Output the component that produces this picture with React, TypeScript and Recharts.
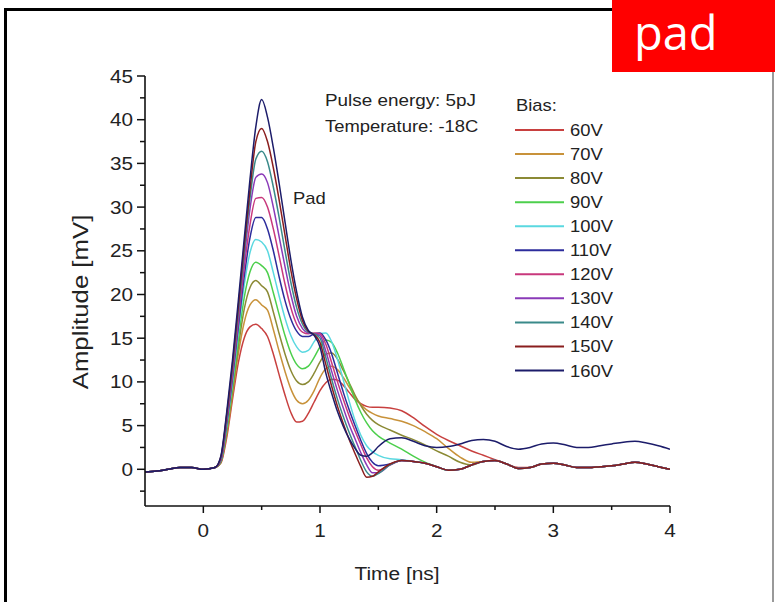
import React from 'react';
import { LineChart, Line, XAxis, YAxis } from 'recharts';

const TIME = [-0.5, -0.4, -0.3, -0.2, -0.1, 0, 0.1, 0.15, 0.2, 0.25, 0.3, 0.35, 0.4, 0.45, 0.5, 0.55, 0.6, 0.65, 0.7, 0.75, 0.8, 0.85, 0.9, 0.95, 1.0, 1.05, 1.1, 1.15, 1.2, 1.25, 1.3, 1.35, 1.4, 1.45, 1.5, 1.6, 1.7, 1.8, 1.9, 2.0, 2.1, 2.2, 2.3, 2.4, 2.5, 2.6, 2.7, 2.8, 2.9, 3.0, 3.1, 3.2, 3.3, 3.4, 3.5, 3.6, 3.7, 3.8, 3.9, 4.0];

const V60 = [-0.3, -0.2, 0.0, 0.2, 0.2, 0.0, 0.2, 0.7, 3.6, 8.0, 12.2, 15.0, 16.3, 16.6, 16.1, 15.2, 13.2, 10.8, 8.5, 6.5, 5.4, 5.5, 6.4, 7.7, 9.0, 9.9, 10.3, 10.2, 9.6, 8.8, 8.0, 7.5, 7.2, 7.1, 7.1, 7.0, 6.7, 5.9, 4.9, 4.0, 3.3, 2.7, 2.1, 1.6, 1.1, 0.6, 0.2, 0.2, 0.6, 0.7, 0.5, 0.2, 0.2, 0.3, 0.4, 0.6, 0.8, 0.6, 0.3, 0.0];
const V70 = [-0.3, -0.2, 0.0, 0.2, 0.2, 0.0, 0.2, 0.8, 4.0, 8.5, 13.2, 16.8, 18.8, 19.4, 18.8, 18.2, 16.0, 13.5, 11.2, 9.2, 7.9, 7.5, 7.9, 9.0, 10.5, 11.5, 11.8, 11.4, 10.5, 9.4, 8.3, 7.4, 6.8, 6.4, 6.1, 5.8, 5.5, 5.0, 4.3, 3.5, 2.4, 1.4, 0.8, 0.9, 1.0, 0.6, 0.1, 0.2, 0.6, 0.7, 0.5, 0.2, 0.2, 0.3, 0.4, 0.6, 0.8, 0.6, 0.3, 0.0];
const V80 = [-0.3, -0.2, 0.0, 0.2, 0.2, 0.0, 0.2, 0.8, 4.3, 9.0, 14.0, 18.3, 20.8, 21.6, 21.0, 20.3, 18.0, 15.5, 13.2, 11.3, 10.1, 9.7, 10.0, 11.0, 12.3, 13.2, 13.3, 12.6, 11.3, 9.9, 8.5, 7.3, 6.3, 5.6, 5.1, 4.5, 3.9, 3.4, 2.8, 2.1, 1.5, 0.8, 0.5, 0.9, 1.0, 0.6, 0.1, 0.2, 0.6, 0.7, 0.5, 0.2, 0.2, 0.3, 0.4, 0.6, 0.8, 0.6, 0.3, 0.0];
const V90 = [-0.3, -0.2, 0.0, 0.2, 0.2, 0.0, 0.2, 0.9, 4.6, 9.5, 14.8, 19.6, 22.6, 23.7, 23.3, 22.5, 20.2, 17.7, 15.3, 13.3, 12.0, 11.5, 11.8, 12.8, 14.0, 14.8, 14.5, 13.3, 11.6, 9.8, 8.0, 6.5, 5.3, 4.4, 3.8, 3.0, 2.3, 1.5, 0.8, 0.3, -0.1, 0.0, 0.5, 0.9, 1.0, 0.6, 0.1, 0.2, 0.6, 0.7, 0.5, 0.2, 0.2, 0.3, 0.4, 0.6, 0.8, 0.6, 0.3, 0.0];
const V100 = [-0.3, -0.2, 0.0, 0.2, 0.2, 0.0, 0.2, 1.0, 5.0, 10.0, 15.7, 21.0, 24.8, 26.3, 26.0, 25.0, 22.5, 19.8, 17.3, 15.3, 14.0, 13.4, 13.6, 14.6, 15.5, 15.6, 14.6, 12.6, 10.2, 7.8, 5.6, 3.9, 2.7, 2.0, 1.6, 1.2, 1.1, 0.9, 0.7, 0.3, -0.1, 0.0, 0.5, 0.9, 1.0, 0.6, 0.1, 0.2, 0.6, 0.7, 0.5, 0.2, 0.2, 0.3, 0.4, 0.6, 0.8, 0.6, 0.3, 0.0];
const V110 = [-0.3, -0.2, 0.0, 0.2, 0.2, 0.0, 0.2, 1.0, 5.2, 10.4, 16.3, 22.0, 26.5, 28.8, 28.8, 27.5, 25.0, 22.0, 19.3, 17.2, 15.8, 15.2, 15.2, 15.5, 15.6, 14.8, 13.2, 11.0, 8.8, 6.8, 5.0, 3.3, 1.8, 0.8, 0.4, 0.6, 1.0, 0.9, 0.7, 0.3, -0.1, 0.0, 0.5, 0.9, 1.0, 0.6, 0.1, 0.2, 0.6, 0.7, 0.5, 0.2, 0.2, 0.3, 0.4, 0.6, 0.8, 0.6, 0.3, 0.0];
const V120 = [-0.3, -0.2, 0.0, 0.2, 0.2, 0.0, 0.2, 1.1, 5.5, 10.8, 16.9, 23.0, 28.0, 31.0, 31.1, 30.0, 27.5, 24.4, 21.2, 18.5, 16.6, 15.7, 15.5, 15.6, 15.5, 14.3, 12.2, 10.0, 8.0, 6.1, 4.4, 2.8, 1.3, 0.3, -0.1, 0.5, 1.0, 0.9, 0.7, 0.3, -0.1, 0.0, 0.5, 0.9, 1.0, 0.6, 0.1, 0.2, 0.6, 0.7, 0.5, 0.2, 0.2, 0.3, 0.4, 0.6, 0.8, 0.6, 0.3, 0.0];
const V130 = [-0.3, -0.2, 0.0, 0.2, 0.2, 0.0, 0.2, 1.2, 5.8, 11.2, 17.5, 24.0, 29.8, 33.4, 33.8, 32.8, 30.0, 26.6, 23.2, 20.0, 17.5, 16.1, 15.6, 15.5, 15.3, 13.5, 11.2, 9.0, 7.0, 5.1, 3.5, 1.9, 0.5, -0.4, -0.4, 0.5, 1.0, 0.9, 0.7, 0.3, -0.1, 0.0, 0.5, 0.9, 1.0, 0.6, 0.1, 0.2, 0.6, 0.7, 0.5, 0.2, 0.2, 0.3, 0.4, 0.6, 0.8, 0.6, 0.3, 0.0];
const V140 = [-0.3, -0.2, 0.0, 0.2, 0.2, 0.0, 0.2, 1.3, 6.0, 11.6, 18.0, 24.8, 31.0, 35.5, 36.4, 35.2, 32.3, 28.8, 25.0, 21.4, 18.5, 16.6, 15.7, 15.5, 15.0, 12.8, 10.3, 8.0, 6.0, 4.2, 2.6, 1.0, -0.3, -0.8, -0.5, 0.5, 1.0, 0.9, 0.7, 0.3, -0.1, 0.0, 0.5, 0.9, 1.0, 0.6, 0.1, 0.2, 0.6, 0.7, 0.5, 0.2, 0.2, 0.3, 0.4, 0.6, 0.8, 0.6, 0.3, 0.0];
const V150 = [-0.3, -0.2, 0.0, 0.2, 0.2, 0.0, 0.2, 1.4, 6.2, 12.0, 18.6, 25.5, 32.0, 37.5, 39.0, 37.5, 34.5, 30.8, 26.8, 22.8, 19.5, 17.0, 15.8, 15.4, 14.5, 12.0, 9.5, 7.2, 5.2, 3.4, 1.8, 0.3, -0.9, -0.8, -0.3, 0.6, 1.0, 0.9, 0.7, 0.3, -0.1, 0.0, 0.5, 0.9, 1.0, 0.6, 0.1, 0.2, 0.6, 0.7, 0.5, 0.2, 0.2, 0.3, 0.4, 0.6, 0.8, 0.6, 0.3, 0.0];
const V160 = [-0.3, -0.2, 0.0, 0.2, 0.2, 0.0, 0.2, 1.5, 6.5, 12.5, 19.3, 26.3, 33.2, 39.2, 42.3, 40.3, 36.8, 32.7, 28.3, 24.0, 20.3, 17.4, 15.9, 15.3, 14.0, 11.0, 8.7, 6.6, 4.9, 3.5, 2.4, 1.6, 1.5, 1.9, 2.6, 3.5, 3.6, 3.2, 2.7, 2.5, 2.6, 2.9, 3.3, 3.4, 3.2, 2.6, 2.3, 2.5, 2.9, 3.0, 2.8, 2.5, 2.5, 2.7, 2.9, 3.1, 3.2, 3.0, 2.7, 2.3];

const SERIES = [
  { key: 'v60', name: '60V', color: '#c8403f', values: V60 },
  { key: 'v70', name: '70V', color: '#c8923a', values: V70 },
  { key: 'v80', name: '80V', color: '#8b8a35', values: V80 },
  { key: 'v90', name: '90V', color: '#4ccf4c', values: V90 },
  { key: 'v100', name: '100V', color: '#5ad8e0', values: V100 },
  { key: 'v110', name: '110V', color: '#2c2c9c', values: V110 },
  { key: 'v120', name: '120V', color: '#c8387c', values: V120 },
  { key: 'v130', name: '130V', color: '#8a3ab8', values: V130 },
  { key: 'v140', name: '140V', color: '#3a8a8a', values: V140 },
  { key: 'v150', name: '150V', color: '#8a1e1e', values: V150 },
  { key: 'v160', name: '160V', color: '#1c1c6a', values: V160 },
];

const X_TICKS = [0, 0.5, 1, 1.5, 2, 2.5, 3, 3.5, 4];
const Y_TICKS = [-2.5, 0, 2.5, 5, 7.5, 10, 12.5, 15, 17.5, 20, 22.5, 25, 27.5, 30, 32.5, 35, 37.5, 40, 42.5, 45];

const rows = TIME.map((t, i) => {
  const r: Record<string, number> = { t };
  SERIES.forEach((s) => { r[s.key] = s.values[i]; });
  return r;
});

const FONT = '"Liberation Sans", Arial, sans-serif';
const SX = 1.15;
const TXT = '#222';

function XTick(props: any) {
  const { x, y, payload } = props;
  const major = Number.isInteger(payload.value);
  return (
    <g>
      <line x1={x} x2={x} y1={y} y2={y + (major ? 7 : 4)} stroke="#111" strokeWidth={1.5} />
      {major && (
        <text transform={`translate(${x},${y + 31}) scale(${SX},1)`} textAnchor="middle" fontSize={18} fill={TXT} fontFamily={FONT}>
          {payload.value}
        </text>
      )}
    </g>
  );
}

function YTick(props: any) {
  const { x, y, payload } = props;
  const major = payload.value % 5 === 0;
  return (
    <g>
      <line x1={x - (major ? 8 : 5)} x2={x} y1={y} y2={y} stroke="#111" strokeWidth={1.5} />
      {major && (
        <text transform={`translate(${x - 12},${y + 6.5}) scale(${SX},1)`} textAnchor="end" fontSize={18} fill={TXT} fontFamily={FONT}>
          {payload.value}
        </text>
      )}
    </g>
  );
}

export default function App() {
  return (
    <div style={{ position: 'absolute', left: 0, top: 0, width: 775, height: 602, background: '#fff', overflow: 'hidden' }}>
      <LineChart width={775} height={602} data={rows} margin={{ top: 76, right: 105, bottom: 66, left: 85 }}>
        <XAxis
          type="number"
          dataKey="t"
          domain={[-0.5, 4]}
          ticks={X_TICKS}
          interval={0}
          tickLine={false}
          tickSize={0}
          tickMargin={0}
          tick={<XTick />}
          axisLine={{ stroke: '#111', strokeWidth: 1.6 }}
          height={30}
          allowDataOverflow
        />
        <YAxis
          type="number"
          domain={[-4.2, 45]}
          ticks={Y_TICKS}
          interval={0}
          tickLine={false}
          tickSize={0}
          tickMargin={0}
          tick={<YTick />}
          axisLine={{ stroke: '#111', strokeWidth: 1.6 }}
          width={60}
          allowDataOverflow
        />
        {SERIES.map((s) => (
          <Line key={s.key} type="monotone" dataKey={s.key} name={s.name} stroke={s.color} strokeWidth={1.5} dot={false} isAnimationActive={false} />
        ))}
      </LineChart>
      <svg width={775} height={602} style={{ position: 'absolute', left: 0, top: 0, pointerEvents: 'none' }}>
        <text transform={`translate(325,106) scale(1.18,1)`} fontSize={16} fill={TXT} fontFamily={FONT}>Pulse energy: 5pJ</text>
        <text transform={`translate(325,132) scale(${SX},1)`} fontSize={16} fill={TXT} fontFamily={FONT}>Temperature: -18C</text>
        <text transform={`translate(293,204) scale(${SX},1)`} fontSize={16} fill={TXT} fontFamily={FONT}>Pad</text>
        <text transform={`translate(516,111) scale(${SX},1)`} fontSize={16} fill={TXT} fontFamily={FONT}>Bias:</text>
        {SERIES.map((s, i) => {
          const cy = 130 + i * 24.05;
          return (
            <g key={s.key}>
              <line x1={515} x2={564} y1={cy} y2={cy} stroke={s.color} strokeWidth={2} />
              <text transform={`translate(570,${cy + 6}) scale(${SX},1)`} fontSize={16} fill={TXT} fontFamily={FONT}>{s.name}</text>
            </g>
          );
        })}
        <text transform={`translate(397,580) scale(1.1,1)`} textAnchor="middle" fontSize={19} fill={TXT} fontFamily={FONT}>Time [ns]</text>
        <text transform={`translate(88,302) rotate(-90) scale(1.12,1)`} textAnchor="middle" fontSize={23} fill={TXT} fontFamily={FONT}>Amplitude [mV]</text>
        <rect x={4} y={8} width={608} height={3} fill="#000" />
        <rect x={4} y={8} width={3} height={594} fill="#000" />
        <rect x={772} y={72} width={2} height={530} fill="#999" />
        <rect x={612} y={0} width={163} height={72} fill="#ff0000" />
        <text x={634} y={50} fontSize={47} fill="#fff" fontFamily='"Open Sans", "Noto Sans", sans-serif'>pad</text>
      </svg>
    </div>
  );
}
